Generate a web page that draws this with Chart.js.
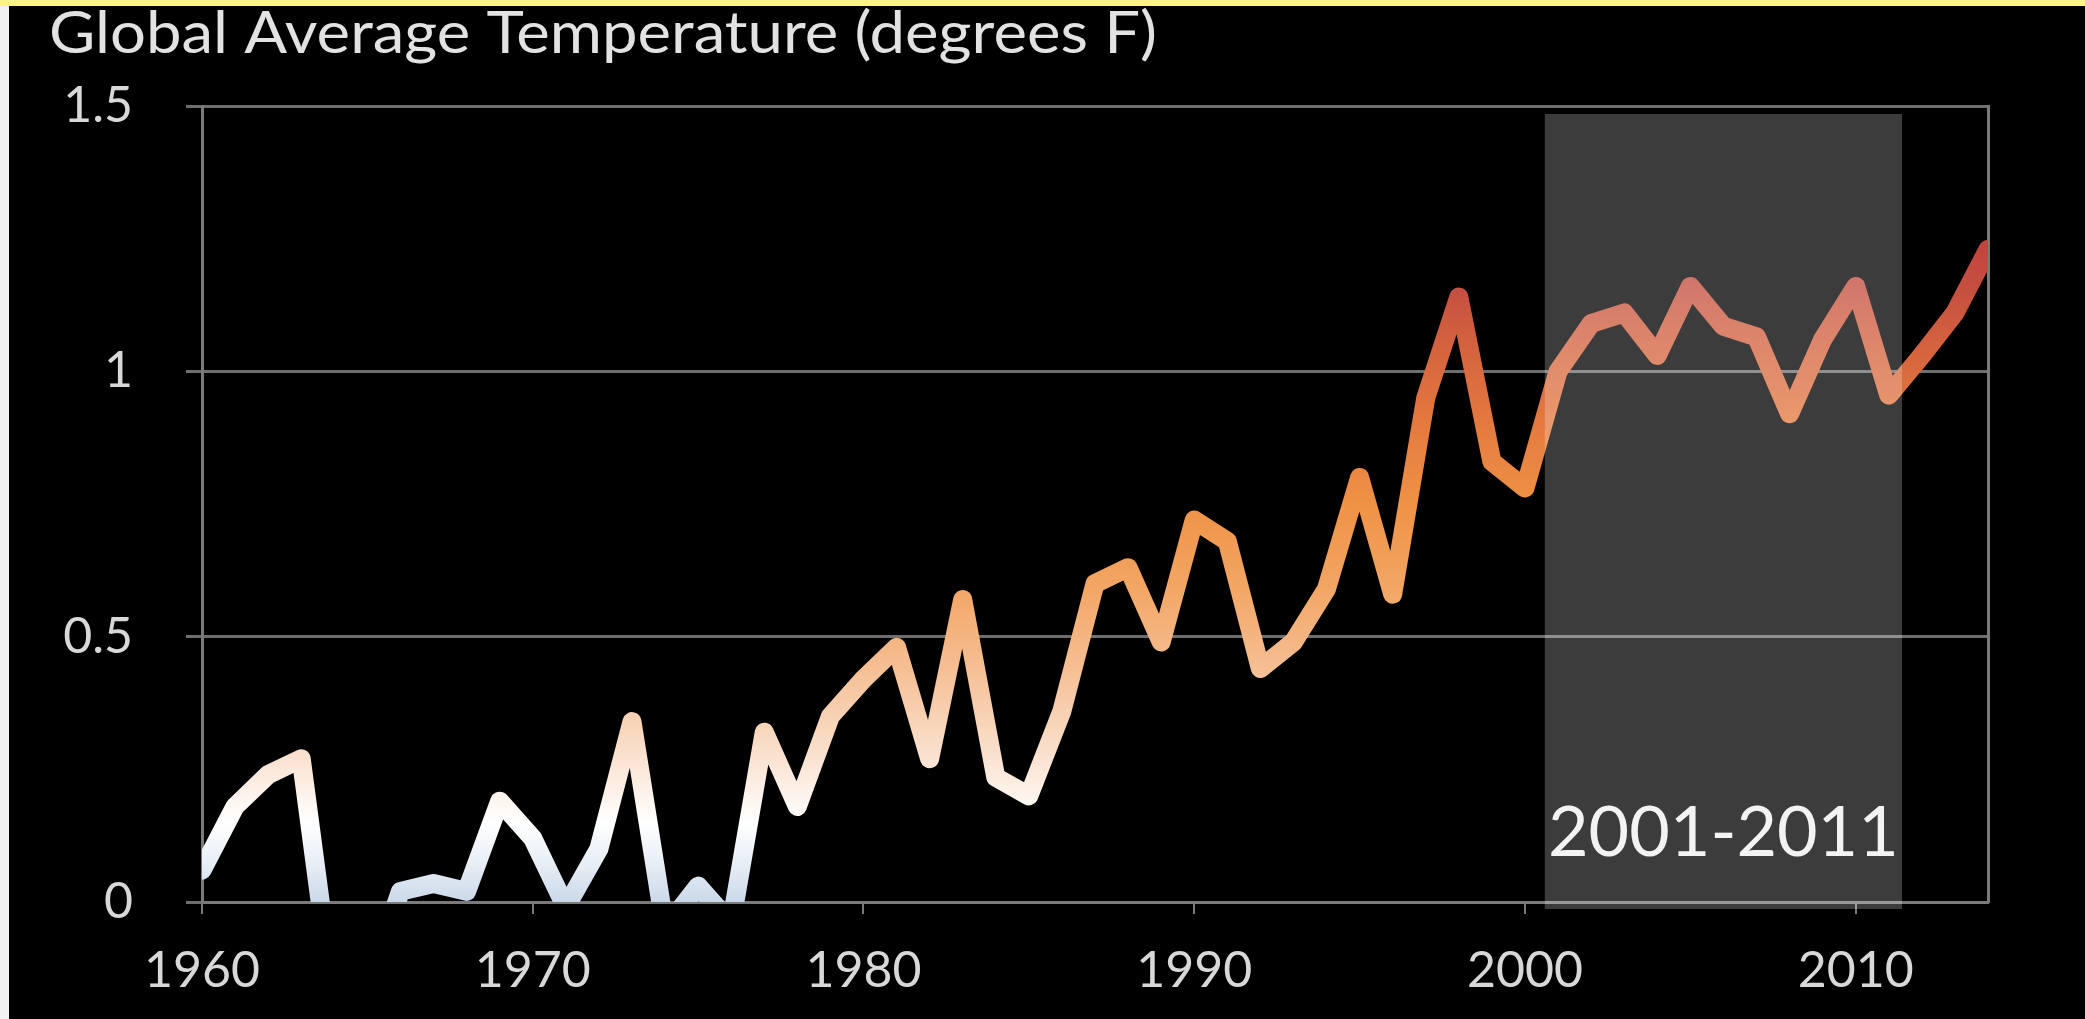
<!DOCTYPE html>
<html>
<head>
<meta charset="utf-8">
<script src="https://cdn.jsdelivr.net/npm/chart.js@4.4.1/dist/chart.umd.min.js"></script>
<style>
  html, body { margin: 0; padding: 0; background: #000; overflow: hidden; }
  #wrap { position: absolute; left: 0; top: 0; width: 2085px; height: 1019px; }
  #topbar { position: absolute; left: 0; top: 0; width: 2085px; height: 6px; background: #fbf38a; z-index: 2; }
  #leftbar { position: absolute; left: 0; top: 6px; width: 9px; height: 1013px; background: #f2f2f2; z-index: 2; }
</style>
</head>
<body>
<div id="wrap"><canvas id="c"></canvas></div>
<div id="topbar"></div>
<div id="leftbar"></div>
<script>
// ---- data ----
const years = [
  1960, 1961, 1962, 1963, 1964, 1965, 1966, 1967, 1968, 1969,
  1970, 1971, 1972, 1973, 1974, 1975, 1976, 1977, 1978, 1979,
  1980, 1981, 1982, 1983, 1984, 1985, 1986, 1987, 1988, 1989,
  1990, 1991, 1992, 1993, 1994, 1995, 1996, 1997, 1998, 1999,
  2000, 2001, 2002, 2003, 2004, 2005, 2006, 2007, 2008, 2009,
  2010, 2011, 2012, 2013, 2014
];
const temps = [
  0.06, 0.18, 0.24, 0.27, -0.20, -0.16, 0.02, 0.035, 0.02, 0.19,
  0.12, -0.01, 0.10, 0.34, -0.05, 0.03, -0.04, 0.32, 0.18, 0.35,
  0.42, 0.48, 0.27, 0.57, 0.235, 0.20, 0.36, 0.60, 0.63, 0.49,
  0.72, 0.68, 0.44, 0.49, 0.59, 0.80, 0.58, 0.95, 1.14, 0.83,
  0.78, 1.00, 1.09, 1.11, 1.03, 1.16, 1.085, 1.065, 0.92, 1.06,
  1.16, 0.955, 1.03, 1.11, 1.23
];
const xTickValues = [1960, 1970, 1980, 1990, 2000, 2010];
const yTickValues = [0, 0.5, 1, 1.5];
const titleText = 'Global Average Temperature (degrees F)';
const highlightLabel = '2001-2011';
const highlightFrom = 2000.6;
const highlightTo = 2011.4;

// ---- styles ----
const gradientStops = [
  [0.00, '#cbd9ea'],
  [0.08, '#eaf0f6'],
  [0.15, '#ffffff'],
  [0.30, '#f9dcc6'],
  [0.45, '#f5bd90'],
  [0.60, '#f2a562'],
  [0.75, '#ef9245'],
  [0.90, '#e47a3f'],
  [1.05, '#d4623e'],
  [1.15, '#c6503f'],
  [1.30, '#c03c3c'],
  [1.50, '#b8343a']
];
const FONT = 'Lato';

function lineGradient(context) {
  const chart = context.chart;
  const { chartArea, scales } = chart;
  if (!chartArea) return '#ffffff';
  const y = scales.y;
  const g = chart.ctx.createLinearGradient(0, y.getPixelForValue(0), 0, y.getPixelForValue(1.5));
  gradientStops.forEach(([v, c]) => g.addColorStop(v / 1.5, c));
  return g;
}

const titlePlugin = {
  id: 'stretchedTitle',
  afterDraw(chart) {
    const ctx = chart.ctx;
    ctx.save();
    ctx.font = '58px ' + FONT;
    ctx.fillStyle = '#e2e2e2';
    ctx.textAlign = 'left';
    ctx.textBaseline = 'alphabetic';
    const w = ctx.measureText(titleText).width;
    const targetWidth = 1108;
    ctx.translate(49, 53);
    ctx.scale(targetWidth / w, 1);
    ctx.fillText(titleText, 0, 0);
    ctx.restore();
  }
};

const highlightPlugin = {
  id: 'highlight',
  afterDatasetsDraw(chart) {
    const { ctx, scales: { x, y } } = chart;
    const l = x.getPixelForValue(highlightFrom);
    const r = x.getPixelForValue(highlightTo);
    const t = y.getPixelForValue(1.5) + 8;
    const b = y.getPixelForValue(0) + 7;
    ctx.save();
    ctx.fillStyle = 'rgba(255,255,255,0.235)';
    ctx.fillRect(l, t, r - l, b - t);
    ctx.fillStyle = '#f3f3f3';
    ctx.font = '70px ' + FONT;
    ctx.textAlign = 'center';
    ctx.textBaseline = 'middle';
    ctx.fillText(highlightLabel, (l + r) / 2, y.getPixelForValue(0) - 69);
    ctx.restore();
  }
};

new Chart(document.getElementById('c'), {
  type: 'line',
  data: {
    datasets: [{
      data: years.map((yr, i) => ({ x: yr, y: temps[i] })),
      borderColor: lineGradient,
      borderWidth: 19,
      borderJoinStyle: 'round',
      borderCapStyle: 'round',
      pointRadius: 0,
      tension: 0,
      fill: false,
      clip: 0
    }]
  },
  options: {
    responsive: true,
    maintainAspectRatio: false,
    animation: false,
    events: [],
    layout: { padding: { left: 49, right: 97, top: 106, bottom: 18 } },
    plugins: {
      legend: { display: false },
      tooltip: { enabled: false },
      title: { display: false }
    },
    scales: {
      x: {
        type: 'linear',
        min: 1960,
        max: 2014,
        afterBuildTicks: axis => { axis.ticks = xTickValues.map(v => ({ value: v })); },
        afterFit: axis => { axis.height = 99; },
        ticks: {
          color: '#d8d8d8',
          font: { family: FONT, size: 50 },
          padding: 27,
          maxRotation: 0,
          autoSkip: false,
          callback: v => String(v)
        },
        grid: {
          display: true,
          drawOnChartArea: false,
          drawTicks: true,
          tickLength: 12,
          color: '#7a7a7a',
          lineWidth: 2
        },
        border: { display: true, color: '#7a7a7a', width: 3 }
      },
      y: {
        type: 'linear',
        min: 0,
        max: 1.5,
        afterBuildTicks: axis => { axis.ticks = yTickValues.map(v => ({ value: v })); },
        afterFit: axis => { axis.width = 153; },
        ticks: {
          color: '#d8d8d8',
          font: { family: FONT, size: 50 },
          padding: 53,
          callback: v => String(v)
        },
        grid: {
          color: '#6e6e6e',
          lineWidth: 3,
          drawTicks: true,
          tickLength: 16
        },
        border: { display: true, color: '#7a7a7a', width: 3 }
      },
      y2: {
        type: 'linear',
        position: 'right',
        min: 0,
        max: 1.5,
        ticks: { display: false },
        grid: { display: false, drawTicks: false },
        border: { display: true, color: '#7a7a7a', width: 3 }
      }
    }
  },
  plugins: [highlightPlugin, titlePlugin]
});
</script>
</body>
</html>
